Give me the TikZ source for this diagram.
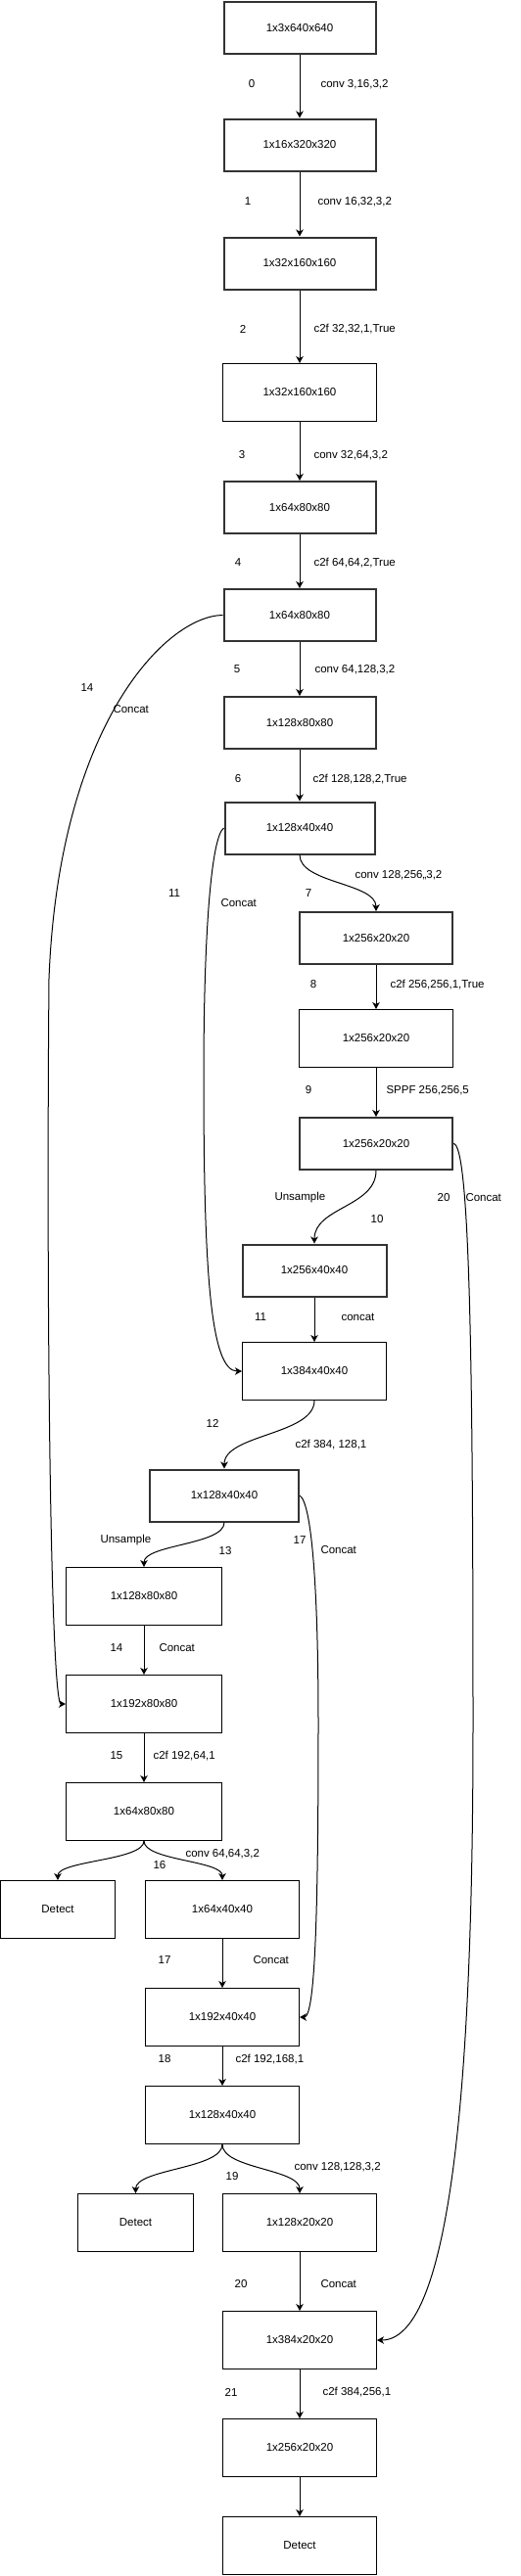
\documentclass[tikz,border=0pt]{standalone}
\usepackage{fontspec}
\setmainfont{Liberation Sans}
\usetikzlibrary{arrows.meta}

\begin{document}
\begin{tikzpicture}
  [
    x=1pt, y=1pt,
    every node/.style={font=\fontsize{11.5}{13}\selectfont},
    fmap/.style={draw, rectangle, line width=1pt, minimum width=157pt, minimum height=59pt, inner sep=2pt},
    fmapk/.style={fmap, draw=black!80, line width=2pt, minimum width=155pt, minimum height=53pt},
    idx/.style={inner sep=0pt},
    op/.style={inner sep=0pt, anchor=west},
    >={Stealth[length=7pt,width=7.5pt,inset=2pt]},
    every path/.style={line width=1pt},
  ]
  \useasboundingbox (0,0) rectangle (531,-2632);

  % backbone
  \node (inp) [fmapk] at (306,-28.5) {1x3x640x640};
  \node (l0) [fmapk] at (306,-148) {1x16x320x320};
  \node (l1) [fmapk] at (306,-269) {1x32x160x160};
  \node (l2) [fmap] at (306,-401) {1x32x160x160};
  \node (l3) [fmapk] at (306,-518.5) {1x64x80x80};
  \node (l4) [fmapk] at (306,-628.5) {1x64x80x80};
  \node (l5) [fmapk] at (306,-738.5) {1x128x80x80};
  \node (l6) [fmapk, minimum width=153pt] at (306,-846) {1x128x40x40};
  \node (l7) [fmapk, minimum width=156pt] at (384,-958.5) {1x256x20x20};
  \node (l8) [fmap] at (384,-1061) {1x256x20x20};
  \node (l9) [fmapk, minimum width=156pt] at (384,-1168.5) {1x256x20x20};

  % head
  \node (l10) [fmapk, minimum width=147pt] at (321,-1298) {1x256x40x40};
  \node (l11) [fmap, minimum width=147pt] at (321,-1401) {1x384x40x40};
  \node (l12) [fmapk, minimum width=152pt] at (229,-1528) {1x128x40x40};
  \node (l13) [fmap, minimum width=159pt] at (147,-1631) {1x128x80x80};
  \node (l14) [fmap, minimum width=159pt] at (147,-1741) {1x192x80x80};
  \node (l15) [fmap, minimum width=159pt] at (147,-1851) {1x64x80x80};
  \node (det1) [fmap, minimum width=117pt] at (59,-1951) {Detect};
  \node (l16) [fmap] at (227,-1951) {1x64x40x40};
  \node (l17) [fmap] at (227,-2061) {1x192x40x40};
  \node (l18) [fmap] at (227,-2161) {1x128x40x40};
  \node (det2) [fmap, minimum width=118pt] at (138.5,-2271) {Detect};
  \node (l19) [fmap] at (306,-2271) {1x128x20x20};
  \node (l20) [fmap] at (306,-2391) {1x384x20x20};
  \node (l21) [fmap] at (306,-2501) {1x256x20x20};
  \node (det3) [fmap] at (306,-2601) {Detect};

  % layer numbers and operations
  \node (i0) [idx] at (257,-86) {0};
  \node (o0) [op] at (327,-86) {conv 3,16,3,2};
  \node (i1) [idx] at (253,-206) {1};
  \node (o1) [op] at (324,-206) {conv 16,32,3,2};
  \node (i2) [idx] at (248,-336) {2};
  \node (o2) [op] at (320,-336) {c2f 32,32,1,True};
  \node (i3) [idx] at (247,-465) {3};
  \node (o3) [op] at (320,-465) {conv 32,64,3,2};
  \node (i4) [idx] at (243,-575) {4};
  \node (o4) [op] at (320,-575) {c2f 64,64,2,True};
  \node (i5) [idx] at (242,-684) {5};
  \node (o5) [op] at (321,-684) {conv 64,128,3,2};
  \node (i6) [idx] at (243,-796) {6};
  \node (o6) [op] at (319,-796) {c2f 128,128,2,True};
  \node (i7) [idx] at (315,-913) {7};
  \node (o7) [op] at (362,-894) {conv 128,256,,3,2};
  \node (i8) [idx] at (320,-1006) {8};
  \node (o8) [op] at (398,-1006) {c2f 256,256,1,True};
  \node (i9) [idx] at (315,-1114) {9};
  \node (o9) [op] at (394,-1114) {SPPF 256,256,5};
  \node (i10) [idx] at (385,-1246) {10};
  \node (o10) [op] at (280,-1224) {Unsample};
  \node (i11) [idx] at (266,-1346) {11};
  \node (o11) [op] at (348,-1346) {concat};
  \node (i12) [idx] at (217,-1454) {12};
  \node (o12) [op] at (301,-1476) {c2f 384, 128,1};
  \node (i13) [idx] at (230,-1585) {13};
  \node (o13) [op] at (102,-1574) {Unsample};
  \node (i14) [idx] at (119,-1684) {14};
  \node (o14) [op] at (162,-1684) {Concat};
  \node (i15) [idx] at (119,-1794) {15};
  \node (o15) [op] at (156,-1794) {c2f 192,64,1};
  \node (i16) [idx] at (163,-1906) {16};
  \node (o16) [op] at (189,-1894) {conv 64,64,3,2};
  \node (i17) [idx] at (168,-2003) {17};
  \node (o17) [op] at (258,-2003) {Concat};
  \node (i18) [idx] at (168,-2104) {18};
  \node (o18) [op] at (240,-2104) {c2f 192,168,1};
  \node (i19) [idx] at (237,-2224) {19};
  \node (o19) [op] at (300,-2214) {conv 128,128,3,2};
  \node (i20) [idx] at (246,-2334) {20};
  \node (o20) [op] at (327,-2334) {Concat};
  \node (i21) [idx] at (236,-2444) {21};
  \node (o21) [op] at (329,-2444) {c2f 384,256,1};

  % skip connection labels
  \node (i14s) [idx] at (89,-703) {14};
  \node (o14s) [op] at (115,-725) {Concat};
  \node (i11s) [idx] at (178,-913) {11};
  \node (o11s) [op] at (225,-923) {Concat};
  \node (i20s) [idx] at (453,-1224) {20};
  \node (o20s) [op] at (475,-1224) {Concat};
  \node (i17s) [idx] at (306,-1574) {17};
  \node (o17s) [op] at (327,-1584) {Concat};

  \draw [->] (inp) -- (l0);
  \draw [->] (l0) -- (l1);
  \draw [->] (l1) -- (l2);
  \draw [->] (l2) -- (l3);
  \draw [->] (l3) -- (l4);
  \draw [->] (l4) -- (l5);
  \draw [->] (l5) -- (l6);
  \draw [->] (l6.south) .. controls +(0,-29) and +(0,29) .. (l7.north);
  \draw [->] (l7) -- (l8);
  \draw [->] (l8) -- (l9);
  \draw [->] (l9.south) .. controls +(0,-37) and +(0,37) .. (l10.north);
  \draw [->] (l10) -- (l11);
  \draw [->] (l11.south) .. controls +(0,-35) and +(0,35) .. (l12.north);
  \draw [->] (l12.south) .. controls +(0,-23) and +(0,23) .. (l13.north);
  \draw [->] (l13) -- (l14);
  \draw [->] (l14) -- (l15);
  \draw [->] (l15.south) .. controls +(0,-20) and +(0,20) .. (det1.north);
  \draw [->] (l15.south) .. controls +(0,-20) and +(0,20) .. (l16.north);
  \draw [->] (l16) -- (l17);
  \draw [->] (l17) -- (l18);
  \draw [->] (l18.south) .. controls +(0,-25) and +(0,25) .. (det2.north);
  \draw [->] (l18.south) .. controls +(0,-25) and +(0,25) .. (l19.north);
  \draw [->] (l19) -- (l20);
  \draw [->] (l20) -- (l21);
  \draw [->] (l21) -- (det3);

  % concat skips
  \draw [->] (l4.west) .. controls (170,-629) and (60,-740) .. (50,-1000)
    .. controls (47,-1350) and (52,-1741) .. (l14.west);
  \draw [->] (l6.west) .. controls (216,-855) and (208,-950) .. (208,-1100)
    .. controls (208,-1300) and (215,-1401) .. (l11.west);
  \draw [->] (l12.east) .. controls (318,-1535) and (325,-1620) .. (325,-1760)
    .. controls (325,-1950) and (322,-2061) .. (l17.east);
  \draw [->] (l9.east) .. controls (480,-1168) and (483,-1400) .. (483,-1760)
    .. controls (483,-2050) and (470,-2391) .. (l20.east);
\end{tikzpicture}
\end{document}
